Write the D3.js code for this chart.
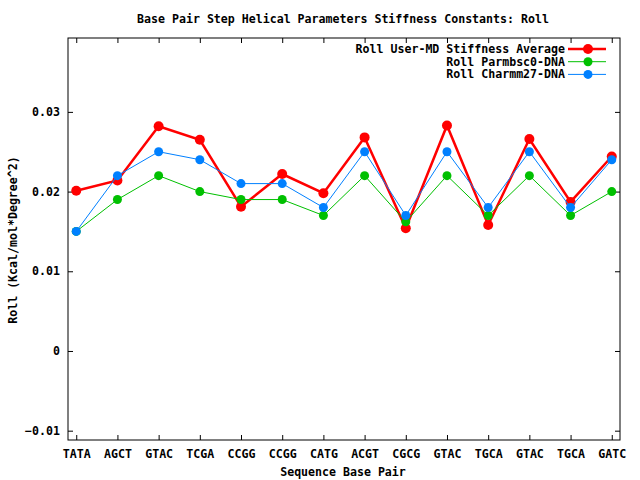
<!DOCTYPE html>
<html>
<head>
<meta charset="utf-8">
<script src="https://cdn.jsdelivr.net/npm/d3@7"></script>
<style>
  body { margin: 0; background: #fff; }
  text { font-family: "DejaVu Sans Mono", monospace; font-weight: bold; font-size: 11.6px; fill: #000; }
</style>
</head>
<body>
<svg id="chart" width="640" height="480"></svg>
<script>
// base pair steps along x
const steps = ["TATA", "AGCT", "GTAC", "TCGA", "CCGG", "CCGG", "CATG", "ACGT", "CGCG", "GTAC", "TGCA", "GTAC", "TGCA", "GATC"];
// roll stiffness per series
const userMD = [0.0201, 0.0214, 0.0282, 0.0265, 0.0181, 0.0222, 0.0198, 0.0268, 0.0154, 0.0283, 0.0158, 0.0266, 0.0187, 0.0244];
const parmbsc0 = [0.015, 0.019, 0.022, 0.020, 0.019, 0.019, 0.017, 0.022, 0.0162, 0.022, 0.017, 0.022, 0.017, 0.020];
const charmm27 = [0.015, 0.022, 0.025, 0.024, 0.021, 0.021, 0.018, 0.025, 0.017, 0.025, 0.018, 0.025, 0.018, 0.024];
const yTicks = [-0.01, 0, 0.01, 0.02, 0.03];
const seriesNames = ["Roll User-MD Stiffness Average", "Roll Parmbsc0-DNA", "Roll Charmm27-DNA"];

const series = [
    { name: seriesNames[0], values: userMD, color: "#ff0000", width: 2.5, r: 5 },
    { name: seriesNames[1], values: parmbsc0, color: "#00c000", width: 1, r: 4.5 },
    { name: seriesNames[2], values: charmm27, color: "#0080ff", width: 1, r: 4.5 }
];

const svg = d3.select("#chart");
const plot = { left: 68, right: 620, top: 38, bottom: 440 };

const x = d3.scaleLinear().domain([-0.2, steps.length - 0.8]).range([plot.left, plot.right]);
const y = d3.scaleLinear().domain([-0.01117, 0.03927]).range([plot.bottom, plot.top]);

// ticks, inward on all sides (gnuplot style)
const fmt = d => d === 0 ? "0" : d3.format(".2f")(d);

const yl = svg.append("g").attr("transform", `translate(${plot.left},0)`)
    .call(d3.axisLeft(y).tickValues(yTicks).tickSize(-5).tickPadding(8).tickFormat(fmt));
const yr = svg.append("g").attr("transform", `translate(${plot.right},0)`)
    .call(d3.axisRight(y).tickValues(yTicks).tickSize(-5).tickFormat(""));
const xb = svg.append("g").attr("transform", `translate(0,${plot.bottom})`)
    .call(d3.axisBottom(x).tickValues(d3.range(steps.length)).tickSize(-5).tickPadding(10).tickFormat(i => steps[i]));
const xt = svg.append("g").attr("transform", `translate(0,${plot.top})`)
    .call(d3.axisTop(x).tickValues(d3.range(steps.length)).tickSize(-5).tickFormat(""));

[yl, yr, xb, xt].forEach(g => {
    g.select(".domain").remove();
    g.selectAll("line").attr("stroke", "#000");
    g.selectAll("text").attr("font-size", null).attr("font-family", null);
});

svg.append("rect")
    .attr("x", plot.left).attr("y", plot.top)
    .attr("width", plot.right - plot.left).attr("height", plot.bottom - plot.top)
    .attr("fill", "none").attr("stroke", "#000");

// series
const line = d3.line().x((d, i) => x(i)).y(d => y(d));

series.forEach(s => {
    svg.append("path")
        .datum(s.values)
        .attr("d", line)
        .attr("fill", "none")
        .attr("stroke", s.color)
        .attr("stroke-width", s.width);
    svg.append("g").selectAll("circle")
        .data(s.values)
        .enter().append("circle")
        .attr("cx", (d, i) => x(i))
        .attr("cy", d => y(d))
        .attr("r", s.r)
        .attr("fill", s.color);
});

// legend
const legend = svg.append("g");
series.forEach((s, i) => {
    const ly = 49 + i * 12.7;
    legend.append("text")
        .attr("x", 565).attr("y", ly).attr("dy", "0.35em")
        .attr("text-anchor", "end")
        .text(s.name);
    legend.append("line")
        .attr("x1", 568).attr("x2", 606)
        .attr("y1", ly).attr("y2", ly)
        .attr("stroke", s.color).attr("stroke-width", s.width);
    legend.append("circle")
        .attr("cx", 588).attr("cy", ly).attr("r", s.r)
        .attr("fill", s.color);
});

// titles
svg.append("text")
    .attr("x", 343).attr("y", 23)
    .attr("text-anchor", "middle")
    .text("Base Pair Step Helical Parameters Stiffness Constants: Roll");

svg.append("text")
    .attr("x", 343).attr("y", 476)
    .attr("text-anchor", "middle")
    .text("Sequence Base Pair");

svg.append("text")
    .attr("transform", "translate(17,240) rotate(-90)")
    .attr("text-anchor", "middle")
    .text("Roll (Kcal/mol*Degree^2)");
</script>
</body>
</html>
